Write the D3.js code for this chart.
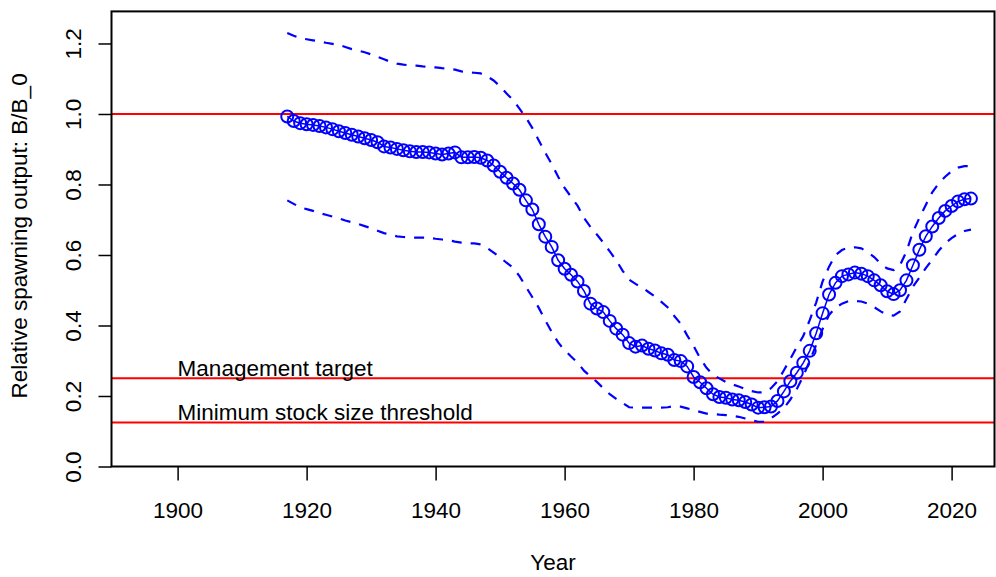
<!DOCTYPE html>
<html><head><meta charset="utf-8">
<script src="https://cdn.jsdelivr.net/npm/d3@7"></script>
<style>
html,body{margin:0;padding:0;background:#fff;}
svg{display:block;}
text{font-family:"Liberation Sans",Arial,Helvetica,sans-serif;fill:#000;}
</style></head>
<body>
<svg id="chart" width="996" height="577"></svg>
<script>
const startYear = 1917;
const estimate = [0.993,0.980,0.974,0.971,0.969,0.966,0.962,0.957,0.951,0.946,0.941,0.936,0.931,0.926,0.920,0.908,0.905,0.901,0.897,0.894,0.892,0.892,0.891,0.888,0.885,0.888,0.891,0.877,0.877,0.878,0.876,0.868,0.854,0.836,0.819,0.803,0.785,0.755,0.729,0.687,0.652,0.623,0.585,0.561,0.544,0.525,0.498,0.462,0.448,0.438,0.413,0.391,0.374,0.350,0.340,0.343,0.334,0.329,0.321,0.317,0.302,0.299,0.284,0.254,0.239,0.222,0.205,0.197,0.195,0.190,0.188,0.183,0.176,0.167,0.168,0.170,0.186,0.213,0.242,0.266,0.294,0.328,0.378,0.435,0.488,0.521,0.540,0.545,0.550,0.547,0.540,0.528,0.514,0.497,0.489,0.500,0.528,0.571,0.615,0.653,0.681,0.705,0.725,0.739,0.752,0.758,0.760];
const upper = [1.230,1.222,1.215,1.212,1.209,1.206,1.202,1.199,1.196,1.190,1.184,1.180,1.175,1.169,1.162,1.155,1.148,1.143,1.140,1.138,1.137,1.135,1.134,1.132,1.130,1.129,1.126,1.121,1.118,1.117,1.115,1.107,1.095,1.078,1.058,1.040,1.015,0.990,0.960,0.925,0.890,0.858,0.822,0.790,0.765,0.740,0.705,0.680,0.658,0.635,0.610,0.585,0.555,0.530,0.518,0.508,0.495,0.482,0.467,0.451,0.427,0.405,0.372,0.342,0.307,0.280,0.260,0.250,0.240,0.233,0.227,0.220,0.214,0.210,0.211,0.222,0.242,0.273,0.305,0.339,0.370,0.415,0.465,0.525,0.567,0.600,0.614,0.621,0.622,0.619,0.608,0.594,0.575,0.562,0.557,0.571,0.610,0.665,0.705,0.742,0.778,0.803,0.822,0.838,0.848,0.852,0.852];
const lower = [0.755,0.745,0.735,0.730,0.725,0.719,0.714,0.709,0.704,0.698,0.693,0.688,0.682,0.676,0.669,0.662,0.657,0.653,0.651,0.650,0.649,0.649,0.649,0.646,0.644,0.642,0.638,0.635,0.633,0.633,0.630,0.620,0.607,0.593,0.578,0.564,0.540,0.510,0.480,0.450,0.415,0.382,0.352,0.330,0.312,0.295,0.272,0.256,0.240,0.222,0.205,0.192,0.180,0.168,0.167,0.167,0.167,0.167,0.167,0.168,0.172,0.170,0.165,0.160,0.155,0.150,0.149,0.147,0.146,0.144,0.141,0.136,0.131,0.127,0.127,0.137,0.150,0.166,0.190,0.220,0.256,0.300,0.345,0.390,0.430,0.450,0.462,0.469,0.470,0.468,0.462,0.452,0.440,0.431,0.428,0.440,0.475,0.510,0.536,0.563,0.587,0.612,0.633,0.648,0.660,0.668,0.672];
const xTicks = [1900,1920,1940,1960,1980,2000,2020];
const yTicks = [0.0,0.2,0.4,0.6,0.8,1.0,1.2];
const refLines = [1.0, 0.25, 0.125];
const refLabels = [{text:"Management target", value:0.25},{text:"Minimum stock size threshold", value:0.125}];
const labelYear = 1900;
const xTitle = "Year";
const yTitle = "Relative spawning output: B/B_0";

const years = estimate.map((_, i) => startYear + i);
const L = 111.5, R = 994.5, T = 11.4, B = 466.5;
const svg = d3.select("#chart");
const x = d3.scaleLinear().domain([1889.75, 2026.65]).range([L, R]);
const y = d3.scaleLinear().domain([0, 1.291]).range([B, T]);
const blue = "#0000FF", red = "#FF0000";
const fs = 22.5;

// reference lines
svg.append("g").selectAll("line").data(refLines).join("line")
  .attr("x1", L).attr("x2", R).attr("y1", d => y(d)).attr("y2", d => y(d))
  .attr("stroke", red).attr("stroke-width", 2);

svg.append("g").selectAll("text").data(refLabels).join("text")
  .attr("x", x(labelYear)).attr("y", d => y(d.value) - 2)
  .attr("font-size", fs).text(d => d.text);

// CI dashed lines
const line = d3.line().x((d, i) => x(years[i])).y(d => y(d));
[upper, lower].forEach(arr => {
  svg.append("path").attr("d", line(arr)).attr("fill", "none")
    .attr("stroke", blue).attr("stroke-width", 2.2).attr("stroke-dasharray", "10,9");
});

// estimate line + circles
svg.append("path").attr("d", line(estimate)).attr("fill", "none")
  .attr("stroke", blue).attr("stroke-width", 1.5);
svg.append("g").selectAll("circle").data(estimate).join("circle")
  .attr("cx", (d, i) => x(years[i])).attr("cy", d => y(d)).attr("r", 6)
  .attr("fill", "none").attr("stroke", blue).attr("stroke-width", 2);

// box
svg.append("rect").attr("x", L).attr("y", T).attr("width", R - L).attr("height", B - T)
  .attr("fill", "none").attr("stroke", "#000").attr("stroke-width", 2);

// x axis
const xa = svg.append("g").attr("transform", `translate(0,${B})`)
  .call(d3.axisBottom(x).tickValues(xTicks).tickFormat(d3.format("d")).tickSize(14).tickPadding(22));
xa.select(".domain").remove();
xa.selectAll(".tick line").attr("stroke", "#000").attr("stroke-width", 1.5);
xa.selectAll(".tick text").attr("font-size", fs).attr("font-family", null).attr("fill", "#000");

// y axis
const ya = svg.append("g").attr("transform", `translate(${L},0)`)
  .call(d3.axisLeft(y).tickValues(yTicks).tickFormat(d3.format(".1f")).tickSize(13));
ya.select(".domain").remove();
ya.selectAll(".tick line").attr("stroke", "#000").attr("stroke-width", 1.5);
ya.selectAll(".tick text").attr("font-size", fs).attr("font-family", null).attr("fill", "#000")
  .attr("x", null).attr("dy", null)
  .attr("text-anchor", "middle")
  .attr("transform", "translate(-31,0) rotate(-90)");

// titles
svg.append("text").attr("x", (L + R) / 2).attr("y", 570).attr("text-anchor", "middle")
  .attr("font-size", fs).text(xTitle);
svg.append("text").attr("transform", `translate(27,${(T + B) / 2 - 3}) rotate(-90)`)
  .attr("text-anchor", "middle").attr("font-size", fs).text(yTitle);
</script>
</body></html>
